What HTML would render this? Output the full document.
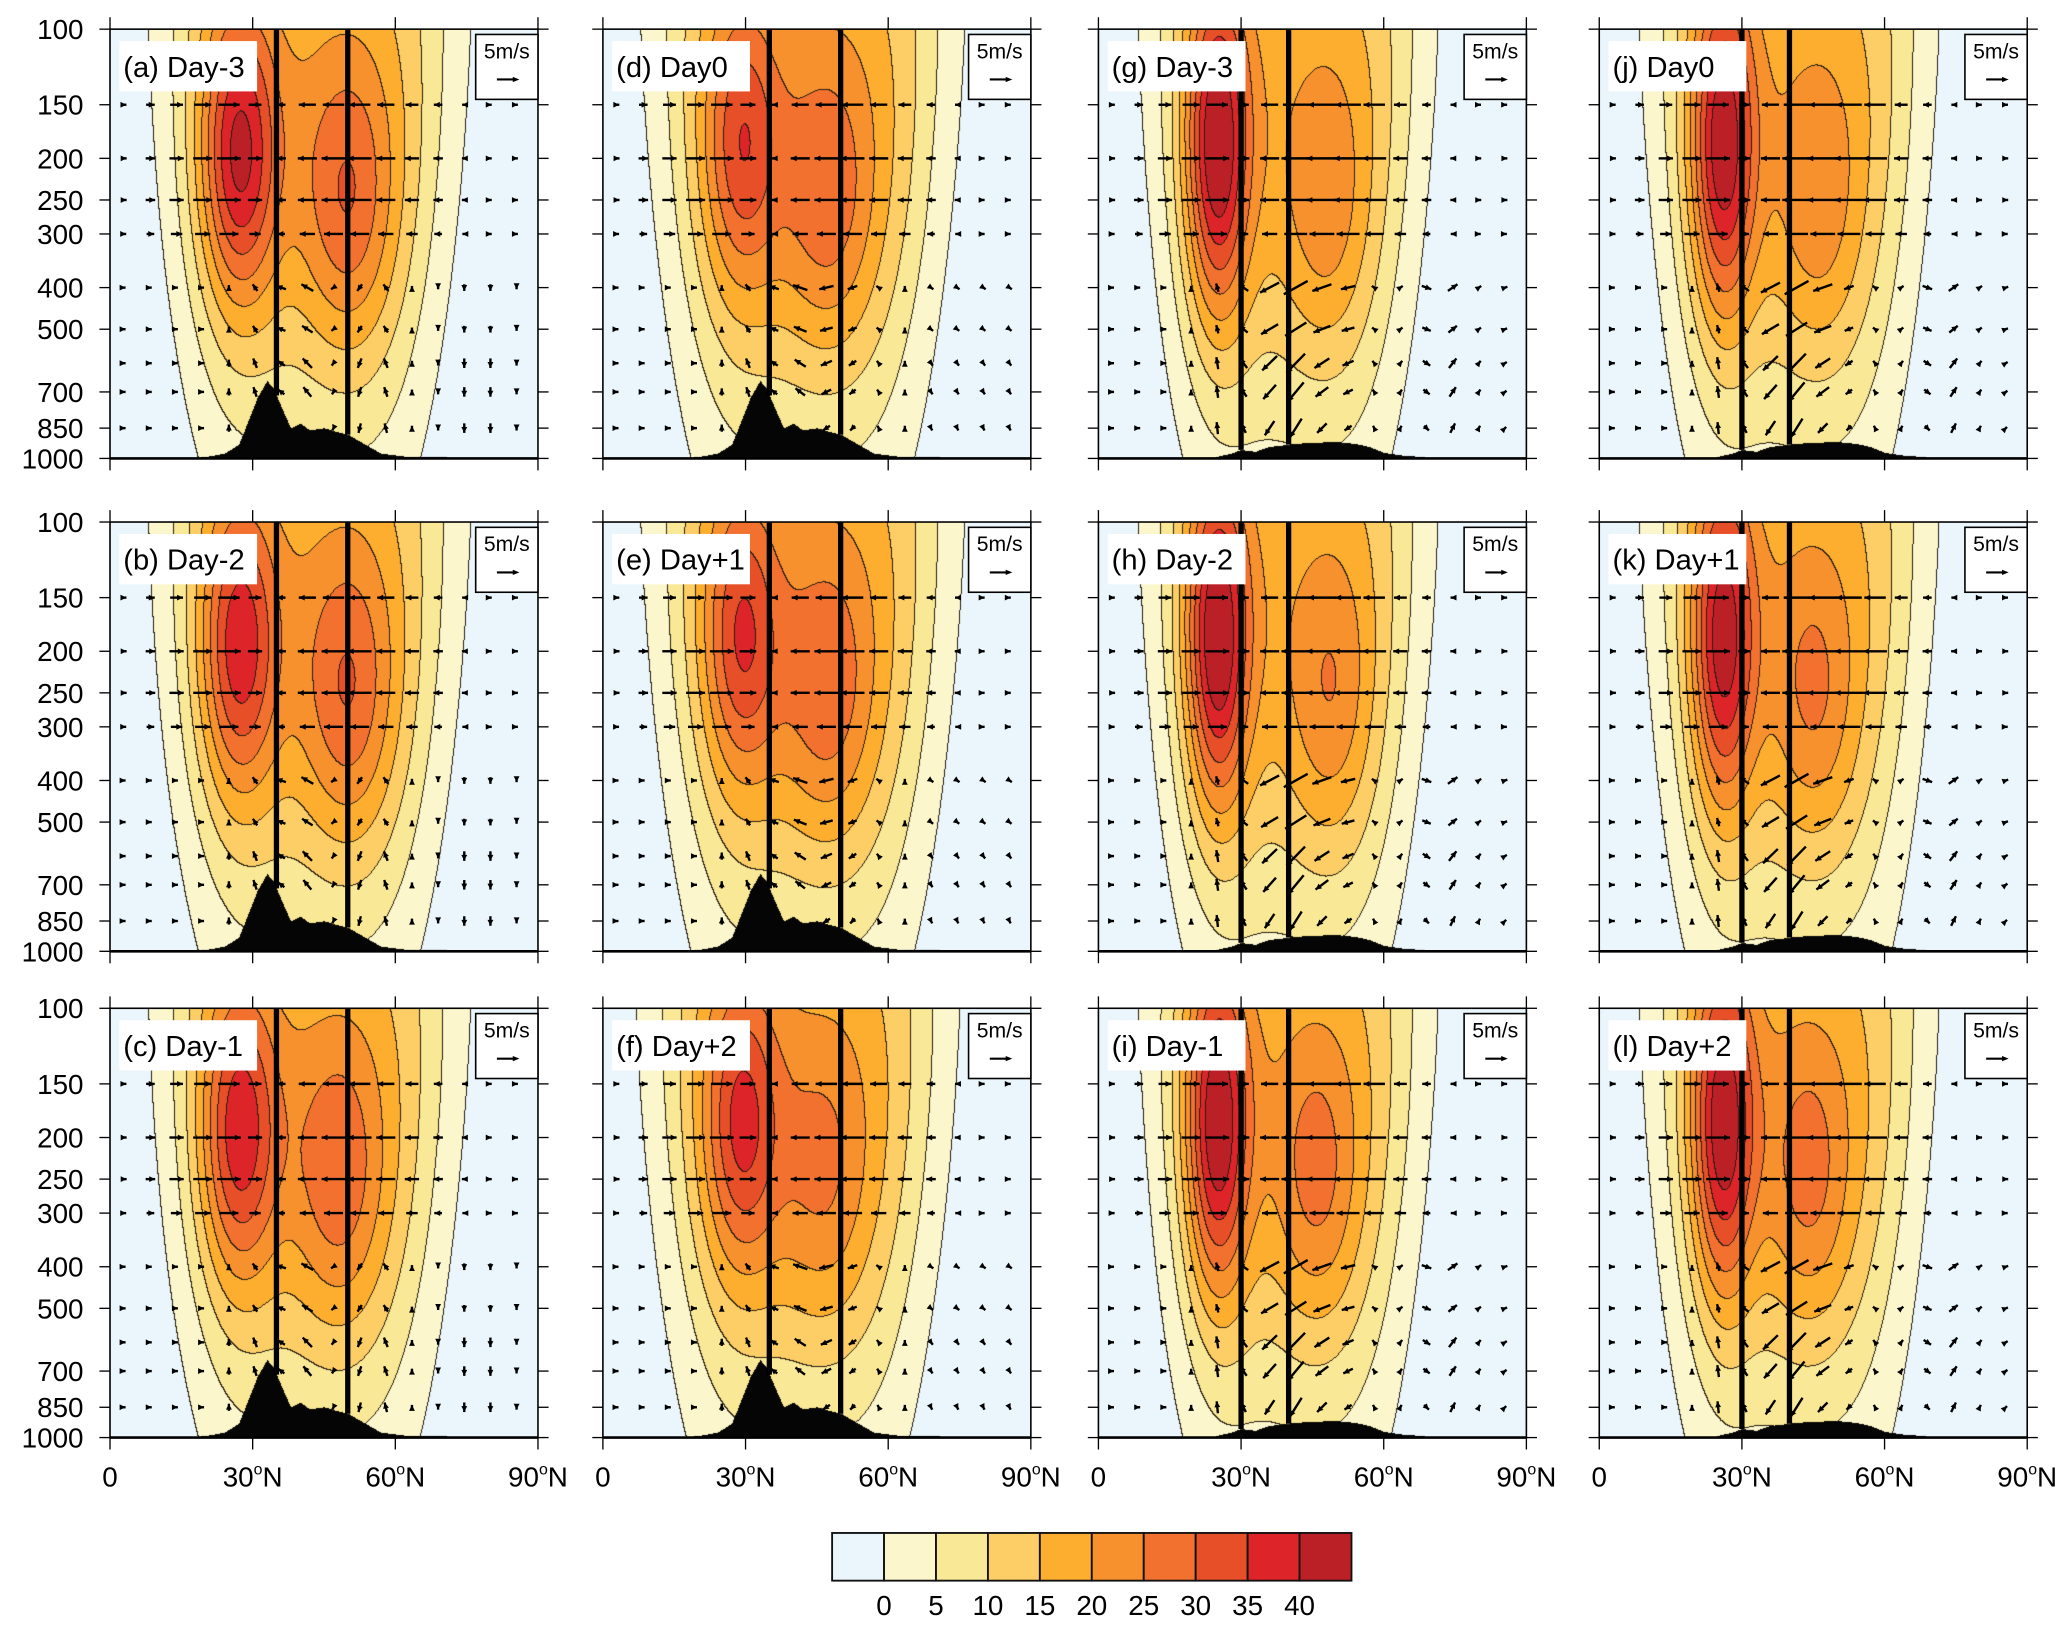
<!DOCTYPE html>
<html><head><meta charset="utf-8">
<style>
html,body{margin:0;padding:0;background:#fff;}
#wrap{position:relative;width:2067px;height:1633px;}
#cv{position:absolute;left:0;top:0;}
#ov{position:absolute;left:0;top:0;}
#err{position:absolute;left:5px;top:1600px;font:12px "Liberation Sans",sans-serif;color:#c00;}
text{font-family:"Liberation Sans",sans-serif;fill:#000;}
</style></head>
<body>
<div id="wrap">
<canvas id="cv" width="2067" height="1633"></canvas>
<svg id="ov" width="2067" height="1633" viewBox="0 0 1560 1232.5" xmlns="http://www.w3.org/2000/svg"></svg>
<div id="err"></div>
</div>
<script>
var panelLabels = ['(a) Day-3','(b) Day-2','(c) Day-1','(d) Day0','(e) Day+1','(f) Day+2','(g) Day-3','(h) Day-2','(i) Day-1','(j) Day0','(k) Day+1','(l) Day+2'];
var stjLat = [27,27,27, 29,29,29, 25,25,25, 26,26,26];
var stjP   = [200,200,200, 190,190,190, 190,190,190, 190,190,190];
var stjAmp = [27,24,24, 18,19,20, 32,32,31, 30,29,30];
var pjLat  = [50,50,48, 47,47,46, 48,49,46, 46,45,44];
var pjP    = [260,260,260, 260,260,260, 270,270,260, 270,270,260];
var pjAmp  = [15,15,14, 13,13,10, 9,10,12, 9,11,12];
var broadLat = [42,42,42, 42,42,41, 40,40,40, 40,40,40];
var broadAmp = [20,20,20, 21,21,21, 20,20,20, 20,20,20];
var presTicks = [100,150,200,250,300,400,500,700,850,1000];
var latTicks = [0,30,60,90];
var latTickLabels = ['0','30','60','90'];
var cbLabels = ['0','5','10','15','20','25','30','35','40'];
var levelColors = ['#eaf5fc','#fbf6cc','#f9e895','#fdcd66','#fdae2f','#f6912d','#f2712f','#e74f29','#dd2428','#bb2026'];
var terrLatA = [0,17,20,24,27,29,31,33,34.5,36,38,40,42,45,48,50,53,57,62,70,72,90];
var terrPA   = [1000,1000,992,975,930,820,720,660,690,760,850,830,860,850,870,880,920,975,990,992,1000,1000];
var terrLatB = [0,24,26,28,30,33,36,38,41,45,50,54,57,60,64,68,70,90];
var terrPB   = [1000,1000,985,975,955,965,940,935,925,920,915,925,940,970,985,992,1000,1000];
var vLines = [[35,50],[35,50],[30,40],[30,40]];
var arrowLevels = [150,200,250,300,400,500,600,700,850];
var arrowLats = [3,8.5,14,19.5,25,30.5,36,41.5,47,52.5,58,63.5,69,74.5,80,85.5];
var uUpper = [
 [1,2,3,4,5,3,-2,-4,-5,-5,-4,-3,-2,-1,-0.5,-0.3],
 [1,2,3,4,5,3.5,-1,-4,-5,-5,-4,-3,-2,-1,-0.5,-0.3],
 [1,2,3,4,5,2.5,-4,-6,-6.5,-6,-5,-3,-2,-1,1,1],
 [1,2,3,4,5,2.5,-4,-6,-6.5,-6,-5,-3,-2,-1,1,1]];
var uLower = [
 [0,0,0,0,0,-1,-2,-2.5,-1,-1,-1,0,0,0,0,0],
 [0,0,0,0,0,-1,-2,-3,-3,-2,-1,0,1,1,1,1],
 [0,0,0,0,-0.5,-2,-4,-5,-4,-3,-1,1,2,2,1,1],
 [0,0,0,0,-0.5,-2,-4,-5,-4,-2,-1,1,2,2,1,1]];
var wLower = [
 [0.5,-0.5,-0.5,0.5,1.5,2,1,2,-1,-2,2,1,-1,-2,-2,-1],
 [0.5,-0.5,-0.5,0.5,1.5,2,1,1.5,-1,-1,1,1,-1,-1,-1,-1],
 [0.5,-0.5,-0.5,1,2.5,2,-3,-4,-2,-1,1,1,-1,2,1,0.5],
 [0.5,-0.5,-0.5,1,2.5,2,-3,-4,-2,-1,1,1,-1,2,1,0.5]];

var SC = 2067/1560;
var colX = [83,455,829,1207], rowY = [22,394,761], PW = 323, PH = 324;
var LN10 = Math.log(10);
function logErr(e){var d=document.getElementById('err');d.textContent+=' '+(e&&e.message?e.message:e);}
function yOf(p,y0){return y0 + Math.log(p/100)/LN10*PH;}
function xOf(lat,x0){return x0 + lat/90*PW;}
function interp(xs,ys,x){for(var i=1;i<xs.length;i++){if(x<=xs[i]){var t=(x-xs[i-1])/(xs[i]-xs[i-1]);return ys[i-1]+t*(ys[i]-ys[i-1]);}}return ys[ys.length-1];}
function hexRgb(h){return [parseInt(h.substr(1,2),16),parseInt(h.substr(3,2),16),parseInt(h.substr(5,2),16)];}

try{
var cvs=document.getElementById('cv'), g2=cvs.getContext('2d');
var rgbs=levelColors.map(hexRgb);
for(var k=0;k<12;k++){
  var c=Math.floor(k/3), r=k%3;
  var X0=Math.round(colX[c]*SC), Y0=Math.round(rowY[r]*SC), W=Math.round(PW*SC), H=Math.round(PH*SC);
  var narrow = c>=2;
  var comps=[
    {lat:stjLat[k],z:Math.log(stjP[k]),A:stjAmp[k],wl:narrow?6.5:8,wz:narrow?0.9:0.8},
    {lat:pjLat[k],z:Math.log(pjP[k]),A:pjAmp[k],wl:narrow?9:10,wz:0.8}];
  var gx=[],gz=[];
  for(var m=0;m<2;m++){
    var o=comps[m];
    var ax=new Float32Array(W);for(var i=0;i<W;i++){var la=i/W*90;ax[i]=o.A*Math.exp(-Math.pow((la-o.lat)/o.wl,2));}
    var az=new Float32Array(H);for(var j=0;j<H;j++){var z=Math.log(100)+j/H*LN10;az[j]=Math.exp(-Math.pow((z-o.z)/o.wz,2));}
    gx.push(ax);gz.push(az);
  }
  var bwl0=narrow?27:29, bLat=broadLat[k], bA=broadAmp[k];
  var bz=new Float32Array(H), bw=new Float32Array(H);
  for(var j=0;j<H;j++){var z=Math.log(100)+j/H*LN10;bz[j]=bA*Math.exp(-Math.pow((z-Math.log(150))/1.85,2));bw[j]=bwl0*(1-0.17*j/H);}
  var lev=new Uint8Array(W*H);
  for(var j=0;j<H;j++){
    var wl=bw[j], zf=bz[j];
    for(var i=0;i<W;i++){
      var la=i/W*90, q=(la-bLat)/wl; q=q*q;
      var v=-3+zf*Math.exp(-q*q)+gx[0][i]*gz[0][j]+gx[1][i]*gz[1][j];
      lev[j*W+i]=v<0?0:Math.min(9,Math.floor(v/5)+1);
    }
  }
  var img=g2.createImageData(W,H);
  var tl=c<2?terrLatA:terrLatB, tp=c<2?terrPA:terrPB;
  var surf=new Float32Array(W);
  for(var i=0;i<W;i++){surf[i]=Math.log(interp(tl,tp,i/W*90)/100)/LN10*H;}
  var dd=img.data;
  for(var j=0;j<H;j++)for(var i=0;i<W;i++){
    var idx=j*W+i, Lv=lev[idx];
    var col=rgbs[Lv];
    if((i<W-1&&lev[idx+1]!==Lv)||(j<H-1&&lev[idx+W]!==Lv))col=[40,30,20];
    if(j>=surf[i])col=[5,5,5];
    dd[idx*4]=col[0];dd[idx*4+1]=col[1];dd[idx*4+2]=col[2];dd[idx*4+3]=255;
  }
  g2.putImageData(img,X0,Y0);
}
}catch(e){logErr(e);}

var NS='http://www.w3.org/2000/svg', root=document.getElementById('ov');
function mk(tag,attrs,parent){var e=document.createElementNS(NS,tag);for(var a in attrs){e.setAttribute(a,String(attrs[a]));}(parent||root).appendChild(e);return e;}
for(var k=0;k<12;k++){
 try{
  var c=Math.floor(k/3), r=k%3, x0=colX[c], y0=rowY[r];
  var g=mk('g',{});
  
  
  var tl=c<2?terrLatA:terrLatB, tp=c<2?terrPA:terrPB;
  for(var q=0;q<vLines[c].length;q++){
    var vl=vLines[c][q];
    var ln=mk('line',{x1:xOf(vl,x0),x2:xOf(vl,x0),y1:y0,y2:yOf(interp(tl,tp,vl),y0),stroke:'#000','stroke-width':4},g);
    
    
  }
  var ag=mk('g',{},g);
  
  
  for(var li=0;li<arrowLevels.length;li++){
    var p=arrowLevels[li];
    for(var ai=0;ai<arrowLats.length;ai++){
      var lat=arrowLats[ai];
      if(p>=interp(tl,tp,lat)-10)continue;
      var u,w;
      if(p<=300){u=uUpper[c][ai]*(p===150?0.9:(p===300?0.8:1));w=0;}
      else{u=uLower[c][ai]*(1-(p-400)/900);w=wLower[c][ai]*(p>=600?1:0.7);}
      var cx=xOf(lat,x0), cy=yOf(p,y0);
      var dx=u*3.6, dy=-w*3.6;
      if(Math.sqrt(dx*dx+dy*dy)<2){dx=2;dy=0;}
      var xa=cx-dx/2,ya=cy-dy/2,xb=cx+dx/2,yb=cy+dy/2;
      var ar=mk('g',{},ag);
      
      
      mk('line',{x1:xa,y1:ya,x2:xb,y2:yb,stroke:'#000','stroke-width':1.8},ar);
      var Ln=Math.sqrt(dx*dx+dy*dy),ux=dx/Ln,uy=dy/Ln,hh=4.5;
      mk('polygon',{points:xb+','+yb+' '+(xb-ux*hh-uy*2.2)+','+(yb-uy*hh+ux*2.2)+' '+(xb-ux*hh+uy*2.2)+','+(yb-uy*hh-ux*2.2),fill:'#000'},ar);
    }
  }
  var fr=mk('rect',{x:x0,y:y0,width:PW,height:PH,fill:'none',stroke:'#000','stroke-width':1.2},g);
  
  
  mk('line',{x1:x0,x2:x0+PW,y1:y0+PH,y2:y0+PH,stroke:'#000','stroke-width':2},g);
  for(var ti=0;ti<presTicks.length;ti++){
    var pp=presTicks[ti], yy=yOf(pp,y0);
    mk('line',{x1:x0-8,x2:x0,y1:yy,y2:yy,stroke:'#000','stroke-width':1},g);
    mk('line',{x1:x0+PW,x2:x0+PW+8,y1:yy,y2:yy,stroke:'#000','stroke-width':1},g);
    if(c===0){
      var yt=mk('text',{x:63,y:yy+7.5,'font-size':21,'text-anchor':'end'},g);
      yt.textContent=String(pp);
      
      
    }
  }
  for(var ti=0;ti<latTicks.length;ti++){
    var xx=xOf(latTicks[ti],x0);
    mk('line',{x1:xx,x2:xx,y1:y0-9,y2:y0,stroke:'#000','stroke-width':1},g);
    mk('line',{x1:xx,x2:xx,y1:y0+PH,y2:y0+PH+9,stroke:'#000','stroke-width':1},g);
    if(r===2){
      var xt=mk('text',{x:xx,y:1122,'font-size':21,'text-anchor':'middle'},g);
      
      
      if(ti===0){xt.textContent='0';}
      else{
        xt.appendChild(document.createTextNode(latTickLabels[ti]));
        var s1=mk('tspan',{'font-size':12,dy:-9},xt);s1.textContent='o';
        var s2=mk('tspan',{dy:9,'font-size':21},xt);s2.textContent='N';
      }
    }
  }
  var lb=mk('rect',{x:x0+7,y:y0+9,width:104,height:38,fill:'#fff'},g);
  
  
  var lt=mk('text',{x:x0+10,y:y0+36,'font-size':22},g);
  lt.textContent=panelLabels[k];
  
  
  var rb=mk('g',{},g);
  
  
  mk('rect',{x:x0+PW-47,y:y0+4,width:47,height:49,fill:'#fff',stroke:'#000','stroke-width':1.2},rb);
  var rt=mk('text',{x:x0+PW-23.5,y:y0+22,'font-size':16,'text-anchor':'middle'},rb);
  rt.textContent='5m/s';
  mk('line',{x1:x0+PW-31,x2:x0+PW-17,y1:y0+38,y2:y0+38,stroke:'#000','stroke-width':1.6},rb);
  mk('polygon',{points:(x0+PW-14)+','+(y0+38)+' '+(x0+PW-19)+','+(y0+36)+' '+(x0+PW-19)+','+(y0+40),fill:'#000'},rb);
 }catch(e){logErr(e);}
}
try{
var cb=mk('g',{});


var cbx=628, cbw=392/10;
for(var i=0;i<levelColors.length;i++){
  var bx=mk('rect',{x:cbx+i*cbw,y:1157,width:cbw,height:36,fill:levelColors[i],stroke:'#111','stroke-width':1.4},cb);
  
  
}
for(var i=0;i<cbLabels.length;i++){
  var ct=mk('text',{x:cbx+(i+1)*cbw,y:1219,'font-size':21,'text-anchor':'middle'},cb);
  ct.textContent=cbLabels[i];
  
  
}
}catch(e){logErr(e);}
</script>
</body></html>
